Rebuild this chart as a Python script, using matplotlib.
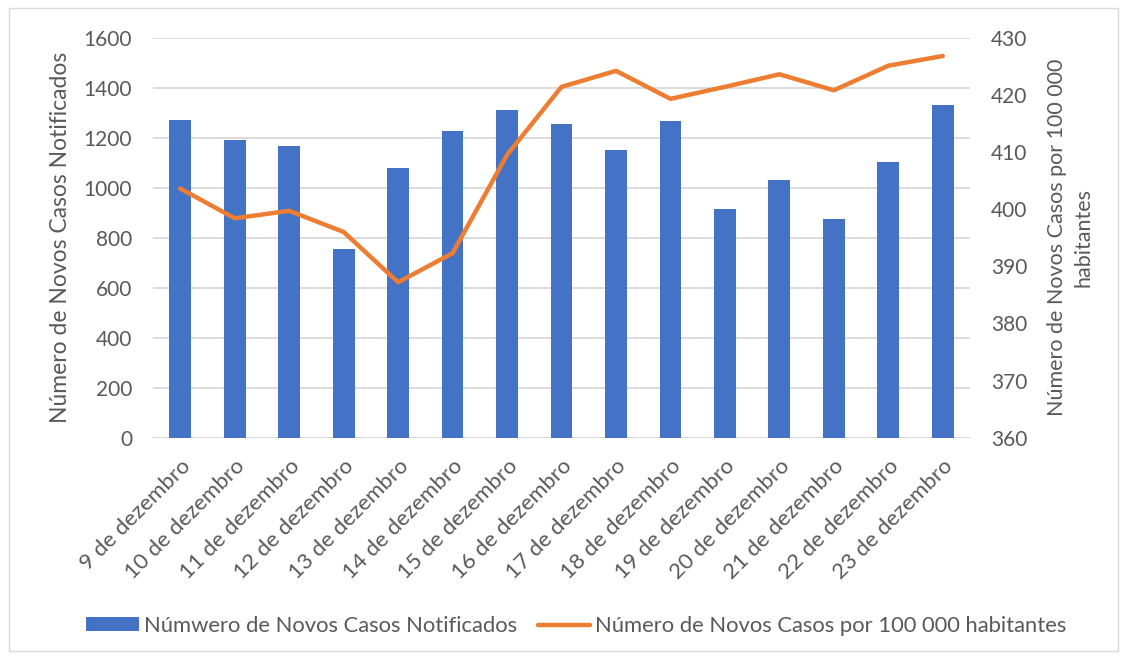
import matplotlib.pyplot as plt
from matplotlib.patches import Rectangle

# data
dias = ["9 de dezembro", "10 de dezembro", "11 de dezembro", "12 de dezembro",
        "13 de dezembro", "14 de dezembro", "15 de dezembro", "16 de dezembro",
        "17 de dezembro", "18 de dezembro", "19 de dezembro", "20 de dezembro",
        "21 de dezembro", "22 de dezembro", "23 de dezembro"]
novos_casos = [1271, 1192, 1166, 756, 1079, 1225, 1312, 1253,
               1152, 1267, 913, 1031, 876, 1101, 1332]
casos_100k = [403.6, 398.4, 399.7, 396.0, 387.2, 392.3, 409.5, 421.4,
              424.2, 419.3, 421.4, 423.6, 420.8, 425.1, 426.8]
left_ticks = [0, 200, 400, 600, 800, 1000, 1200, 1400, 1600]
right_ticks = [360, 370, 380, 390, 400, 410, 420, 430]

blue = '#4472C4'
orange = '#ED7D31'
grey_text = '#595959'
grid_col = '#D9D9D9'

plt.rcParams['font.family'] = ['Lato', 'DejaVu Sans']

fig = plt.figure(figsize=(11.27, 6.59), dpi=100)
ax = fig.add_axes([0.1358, 0.3358, 0.7249, 0.607])
ax2 = ax.twinx()

x = list(range(len(dias)))
bars = ax.bar(x, novos_casos, width=0.4, color=blue, zorder=2,
              label='Númwero de Novos Casos Notificados')
line, = ax2.plot(x, casos_100k, color=orange, linewidth=3.2,
                 solid_capstyle='round', solid_joinstyle='round',
                 label='Número de Novos Casos por 100 000 habitantes')

ax.set_xlim(-0.5, len(dias) - 0.5)
ax.set_ylim(0, 1600)
ax.set_yticks(left_ticks)
ax2.set_ylim(360, 430)
ax2.set_yticks(right_ticks)

ax.yaxis.grid(True, color=grid_col, linewidth=1.3, zorder=0)
ax.set_axisbelow(True)

for a in (ax, ax2):
    for s in ('top', 'right', 'left', 'bottom'):
        a.spines[s].set_visible(False)
    a.tick_params(axis='both', length=0, labelsize=15, colors=grey_text)
ax.axhline(0, color=grid_col, linewidth=1.3, zorder=1)

ax.tick_params(axis='y', pad=15)
ax2.tick_params(axis='y', pad=15)

ax.set_xticks(x)
ax.set_xticklabels(dias, rotation=45, ha='right', rotation_mode='anchor',
                   fontsize=16)
ax.tick_params(axis='x', pad=13)

ax.set_ylabel('Número de Novos Casos Notificados', fontsize=16.5,
              color=grey_text, labelpad=9)
ax2.set_ylabel('Número de Novos Casos por 100 000\nhabitantes', fontsize=15.5,
               color=grey_text, labelpad=14, linespacing=1.45)

fig.legend(handles=[bars, line], loc='center', bbox_to_anchor=(0.5115, 0.05),
           ncol=2, frameon=False, fontsize=15.8, handlelength=2.4,
           handleheight=0.6, handletextpad=0.23, columnspacing=0.95,
           labelcolor=grey_text)

# light outer border like the spreadsheet chart area
fig.patches.append(Rectangle((0.008, 0.012), 0.984, 0.976, transform=fig.transFigure,
                             fill=False, edgecolor='#D9D9D9', linewidth=1.0))

fig.savefig('out.png', dpi=100)
